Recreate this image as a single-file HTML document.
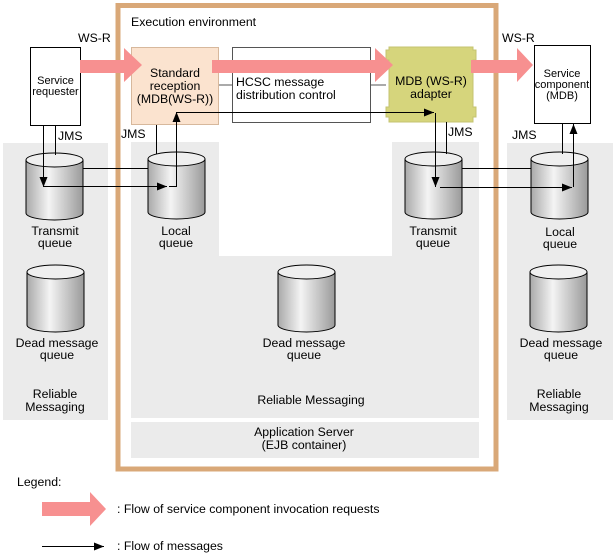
<!DOCTYPE html>
<html><head><meta charset="utf-8"><style>
html,body{margin:0;padding:0;background:#fff}
svg{display:block}
text{font-family:"Liberation Sans",Arial,sans-serif;font-size:12.3px;fill:#000}
.s{font-size:11px}
</style></head><body>
<svg width="615" height="556" viewBox="0 0 615 556" xmlns="http://www.w3.org/2000/svg">
<defs>
<linearGradient id="cyl" x1="0" x2="1" y1="0" y2="0">
<stop offset="0" stop-color="#a9a9a9"/><stop offset="0.4" stop-color="#f4f4f4"/><stop offset="1" stop-color="#9a9a9a"/>
</linearGradient>
<marker id="ah" markerWidth="10" markerHeight="8" refX="10" refY="4" orient="auto" markerUnits="userSpaceOnUse">
<path d="M0,0 L10,4 L0,8 z" fill="#000"/></marker>
<g id="cy">
<path d="M0,7 L0,60 A28.5,7 0 0 0 57,60 L57,7" fill="url(#cyl)" stroke="#000" stroke-width="1"/>
<ellipse cx="28.5" cy="7" rx="28.5" ry="7" fill="#efefef" stroke="#000" stroke-width="1"/>
</g>
</defs>
<rect x="3" y="143" width="105" height="277" fill="#ebebeb"/>
<rect x="507" y="143" width="106" height="277" fill="#ebebeb"/>
<path d="M131,142 H219 V256 H392 V142 H479 V418 H131 Z" fill="#ebebeb"/>
<rect x="131" y="422" width="348" height="36" fill="#ebebeb"/>
<rect x="118" y="5.5" width="378" height="463.5" fill="none" stroke="#d9a878" stroke-width="5"/>
<text x="131" y="26">Execution environment</text>
<rect x="30.5" y="47.5" width="50" height="78" fill="#fff" stroke="#000"/>
<text x="55.5" y="84" text-anchor="middle" class="s">Service</text>
<text x="55.5" y="95" text-anchor="middle" class="s">requester</text>
<rect x="131.5" y="47.5" width="87" height="77" fill="#fbe3cf" stroke="#d7b89c"/>
<rect x="232.5" y="47.5" width="138" height="75" fill="#fff" stroke="#555"/>
<polygon points="389,47 473,47 473,50 476,50 476,60 473,60 473,107 476,107 476,117 473,117 473,122 389,122 389,117 386,117 386,107 389,107 389,60 386,60 386,50 389,50" fill="#d6d57c" stroke="#c4c370"/>
<rect x="534.5" y="45.5" width="56" height="78" fill="#fff" stroke="#000"/>
<polygon points="80,60 124,60 124,48 142,65 124,82 124,73 80,73" fill="#f79090"/>
<polygon points="212,60 375,60 375,48 393,65 375,82 375,73 212,73" fill="#f79090"/>
<polygon points="471,60 517,60 517,48 533,65 517,82 517,73 471,73" fill="#f79090"/>
<text x="175" y="77" text-anchor="middle">Standard</text>
<text x="175" y="90" text-anchor="middle">reception</text>
<text x="175" y="103" text-anchor="middle">(MDB(WS-R))</text>
<text x="236" y="86">HCSC message</text>
<text x="236" y="99">distribution control</text>
<text x="431" y="85" text-anchor="middle">MDB (WS-R)</text>
<text x="431" y="98" text-anchor="middle">adapter</text>
<text x="562" y="77" text-anchor="middle" class="s">Service</text>
<text x="562" y="88" text-anchor="middle" class="s">component</text>
<text x="562" y="99" text-anchor="middle" class="s">(MDB)</text>
<line x1="219" y1="85" x2="232" y2="85" stroke="#555"/>
<line x1="371" y1="85" x2="386" y2="85" stroke="#555"/>
<text x="78" y="42">WS-R</text>
<text x="502" y="42">WS-R</text>
<use href="#cy" x="26" y="153"/>
<use href="#cy" x="148" y="152"/>
<use href="#cy" x="405" y="152"/>
<use href="#cy" x="531" y="152"/>
<use href="#cy" x="27" y="265"/>
<use href="#cy" x="278" y="265"/>
<use href="#cy" x="530" y="265"/>
<g stroke="#000" stroke-width="1" fill="none">
<line x1="55.5" y1="125" x2="55.5" y2="155"/>
<line x1="156.5" y1="125" x2="156.5" y2="154"/>
<line x1="446.5" y1="122" x2="446.5" y2="154"/>
<line x1="562.5" y1="124" x2="562.5" y2="154"/>
<line x1="83" y1="168.5" x2="148" y2="168.5"/>
<line x1="462" y1="168.5" x2="531" y2="168.5"/>
<line x1="43.5" y1="125" x2="43.5" y2="187" marker-end="url(#ah)"/>
<line x1="43" y1="186.5" x2="167" y2="186.5" marker-end="url(#ah)"/>
<polyline points="169,186.5 176.5,186.5 176.5,112" marker-end="url(#ah)"/>
<line x1="176" y1="112.5" x2="434" y2="112.5" marker-end="url(#ah)"/>
<line x1="435.5" y1="113" x2="435.5" y2="187" marker-end="url(#ah)"/>
<line x1="440" y1="187.5" x2="572" y2="187.5" marker-end="url(#ah)"/>
<line x1="573.5" y1="187" x2="573.5" y2="124" marker-end="url(#ah)"/>
</g>
<text x="58" y="140">JMS</text>
<text x="121" y="138">JMS</text>
<text x="448" y="136">JMS</text>
<text x="512" y="139">JMS</text>
<g text-anchor="middle">
<text x="55" y="235">Transmit</text><text x="55" y="247">queue</text>
<text x="176" y="235">Local</text><text x="176" y="247">queue</text>
<text x="433" y="235">Transmit</text><text x="433" y="247">queue</text>
<text x="560" y="236">Local</text><text x="560" y="248">queue</text>
<text x="57" y="347">Dead message</text><text x="57" y="359">queue</text>
<text x="304" y="347">Dead message</text><text x="304" y="359">queue</text>
<text x="561" y="347">Dead message</text><text x="561" y="359">queue</text>
<text x="55" y="398">Reliable</text><text x="55" y="411">Messaging</text>
<text x="311" y="404">Reliable Messaging</text>
<text x="559" y="398">Reliable</text><text x="559" y="411">Messaging</text>
<text x="304" y="436">Application Server</text><text x="304" y="449">(EJB container)</text>
</g>
<text x="17" y="486">Legend:</text>
<polygon points="42,502 90,502 90,492 106,509 90,526 90,516 42,516" fill="#f79090"/>
<text x="117" y="513">: Flow of service component invocation requests</text>
<line x1="42" y1="546.5" x2="104" y2="546.5" stroke="#000" marker-end="url(#ah)"/>
<text x="117" y="550">: Flow of messages</text>
</svg>
</body></html>
